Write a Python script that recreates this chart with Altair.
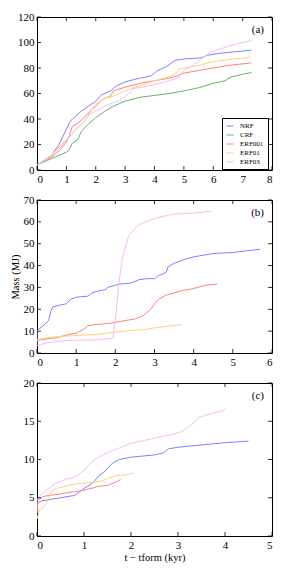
import altair as alt
import pandas as pd

runs = ["NRF", "CRF", "ERF001", "ERF01", "ERF03"]
colors = ["#8080ff", "#66b366", "#ff8080", "#ffd280", "#f6bdf6"]
panel_labels = ["(a)", "(b)", "(c)"]

# Panel (a)
a_nrf_t = [0, 0.2, 0.35, 0.5, 0.75, 1.0, 1.1, 1.2, 1.5, 1.75, 2.0, 2.2, 2.5, 2.7, 3.0, 3.3, 3.5, 3.9, 4.1, 4.4, 4.7, 5.0, 5.6, 5.8, 6.2, 7.3]
a_nrf_m = [4, 7, 9, 12, 20, 32, 37, 40, 46, 50, 54, 59, 62, 66, 69, 71, 72, 74, 78, 81, 86, 87, 88, 90, 91.5, 94]
a_crf_t = [0, 0.5, 0.8, 1.0, 1.1, 1.2, 1.4, 1.5, 1.7, 2.0, 2.3, 2.6, 3.0, 3.5, 4.0, 4.5, 5.0, 5.5, 6.0, 6.4, 6.6, 7.0, 7.3]
a_crf_m = [4, 9, 12, 14, 16, 21, 24, 30, 35, 41, 46, 50, 54, 57, 58.5, 60, 62, 64.5, 68, 70, 73, 75, 76.5]
a_e001_t = [0, 0.3, 0.5, 0.8, 1.0, 1.1, 1.2, 1.4, 1.6, 1.8, 2.0, 2.2, 2.5, 2.6, 3.0, 3.5, 4.0, 4.5, 4.8, 5.0, 5.5, 6.0, 6.5, 7.3]
a_e001_m = [4, 8, 10, 16, 22, 27, 34, 37, 41, 46, 50, 55, 58, 62, 65, 68, 70, 72, 74, 76, 78, 80, 82, 84]
a_e01_t = [0, 0.5, 1.0, 1.3, 1.6, 1.8, 2.0, 2.3, 2.6, 3.0, 3.5, 4.0, 4.5, 4.7, 4.85, 5.0, 5.5, 6.0, 6.5, 7.3]
a_e01_m = [4, 12, 24, 31, 38, 45, 52, 56, 58, 62, 66, 70, 73, 75, 79, 80, 82, 85, 86.5, 88.5]
a_e03_t = [0, 0.5, 1.0, 1.3, 1.6, 1.8, 2.0, 2.3, 2.6, 2.8, 3.0, 3.2, 3.3, 3.6, 4.0, 4.5, 4.8, 4.9, 5.0, 5.3, 5.6, 5.8, 6.0, 6.5, 7.0, 7.3]
a_e03_m = [4, 11, 23, 31, 38, 44, 46, 50, 53, 54, 58, 61, 64, 65, 67, 70, 72, 76, 78, 82, 87, 91, 93, 97, 100, 101.5]

# Panel (b)
b_nrf_t = [0, 0, 0.05, 0.2, 0.3, 0.35, 0.4, 0.6, 0.75, 0.85, 1.0, 1.3, 1.4, 1.6, 1.75, 1.8, 2.0, 2.1, 2.4, 2.6, 2.8, 3.0, 3.1, 3.2, 3.3, 3.35, 3.5, 3.8, 4.0, 4.5, 5.0, 5.7]
b_nrf_m = [4, 10, 11, 13, 15, 19, 21, 22, 22.5, 24.5, 25.5, 26, 27.5, 28.5, 29, 30, 31, 31.5, 32, 33.5, 34, 34, 35.5, 36, 37, 39.5, 41, 43, 44, 45.5, 46, 47.5]
b_e001_t = [0, 0.05, 0.5, 0.8, 1.0, 1.2, 1.3, 1.5, 1.8, 2.0, 2.3, 2.5, 2.7, 2.9, 3.0, 3.1, 3.3, 3.5, 3.7, 4.0, 4.3, 4.6]
b_e001_m = [5.5, 6, 7, 8.5, 9, 11, 12.5, 13, 13.5, 14, 15, 15.5, 17, 20, 22.5, 24.5, 26.5, 27.5, 28.5, 29.5, 31, 31.5]
b_e01_t = [0, 0.2, 0.5, 1.0, 1.5, 2.0, 2.5, 2.8, 3.0, 3.3, 3.7]
b_e01_m = [6, 6.8, 7.5, 8, 8.5, 9.5, 10.5, 10.8, 11.5, 12.2, 13]
b_e03_t = [0, 0.3, 0.8, 1.5, 1.94, 2.0, 2.09, 2.18, 2.35, 2.6, 3.03, 3.46, 4.0, 4.45]
b_e03_m = [3.5, 4.8, 5.8, 6.0, 6.8, 15, 31.5, 43.7, 54, 58.7, 61.7, 63.5, 64, 64.8]

# Panel (c)
c_nrf_t = [0, 0.01, 0.1, 0.5, 0.8, 1.0, 1.2, 1.3, 1.45, 1.6, 1.75, 2.0, 2.5, 2.7, 2.8, 3.0, 3.5, 4.0, 4.5]
c_nrf_m = [3, 4.3, 4.6, 5.0, 5.3, 6.2, 7.0, 7.8, 8.5, 9.5, 10.0, 10.3, 10.6, 10.9, 11.4, 11.6, 11.9, 12.2, 12.4]
c_e001_t = [0, 0.02, 0.15, 0.5, 0.8, 1.0, 1.2, 1.3, 1.5, 1.7, 1.78]
c_e001_m = [3, 4.7, 5.2, 5.5, 5.8, 6.0, 6.3, 6.5, 6.6, 7.1, 7.4]
c_e01_t = [0, 0.05, 0.15, 0.2, 0.25, 0.3, 0.4, 0.6, 0.8, 1.0, 1.2, 1.4, 1.5, 1.7, 1.85, 1.95, 2.0, 2.05]
c_e01_m = [2.2, 3.4, 3.8, 4.3, 5.0, 5.8, 6.2, 6.5, 6.8, 6.9, 7.0, 7.2, 7.5, 7.9, 8.0, 8.0, 8.2, 8.2]
c_e03_t = [0, 0.05, 0.2, 0.4, 0.6, 0.8, 1.0, 1.1, 1.3, 1.5, 1.75, 2.0, 2.5, 2.9, 3.1, 3.3, 3.45, 3.6, 3.9, 4.02]
c_e03_m = [4.7, 5.2, 6.0, 6.9, 7.4, 7.7, 8.5, 9.3, 10.3, 10.9, 11.5, 12.1, 12.8, 13.3, 13.7, 14.6, 15.5, 15.8, 16.3, 16.6]


def frame(series):
    rows = []
    for name, ts, ms in series:
        for i, (t, m) in enumerate(zip(ts, ms)):
            rows.append({"run": name, "t": t, "m": m, "i": i})
    return pd.DataFrame(rows)


df_a = frame([("NRF", a_nrf_t, a_nrf_m), ("CRF", a_crf_t, a_crf_m), ("ERF001", a_e001_t, a_e001_m),
              ("ERF01", a_e01_t, a_e01_m), ("ERF03", a_e03_t, a_e03_m)])
df_b = frame([("NRF", b_nrf_t, b_nrf_m), ("ERF001", b_e001_t, b_e001_m),
              ("ERF01", b_e01_t, b_e01_m), ("ERF03", b_e03_t, b_e03_m)])
df_c = frame([("NRF", c_nrf_t, c_nrf_m), ("ERF001", c_e001_t, c_e001_m),
              ("ERF01", c_e01_t, c_e01_m), ("ERF03", c_e03_t, c_e03_m)])

W, H = 235, 153
FONT = "Liberation Serif"
TL = 4


def panel(df, xmax, ymax, ystep, label, ytitle=None, xtitle=None, legend=None):
    xs = alt.Scale(domain=[0, xmax], nice=False)
    ys = alt.Scale(domain=[0, ymax], nice=False)
    xv = list(range(0, xmax + 1))
    yv = list(range(0, ymax + 1, ystep))
    common = dict(labelFont=FONT, labelFontSize=11, labelColor="black", grid=False,
                  titleFont=FONT, titleFontSize=10.5, titleFontWeight="normal", titleColor="black")
    xax = alt.Axis(values=xv, ticks=False, domain=False, labelPadding=3, title=xtitle, titlePadding=2, **common)
    yax = alt.Axis(values=yv, ticks=False, domain=False, labelPadding=3, title=ytitle, titlePadding=3, **common)
    lines = alt.Chart(df).mark_line(strokeWidth=1, clip=True).encode(
        x=alt.X("t:Q", scale=xs, axis=xax), y=alt.Y("m:Q", scale=ys, axis=yax), order="i:Q",
        color=alt.Color("run:N", scale=alt.Scale(domain=runs, range=colors), legend=legend))
    xt = pd.DataFrame({"v": xv})
    yt = pd.DataFrame({"v": yv})
    rule = dict(color="black", strokeWidth=0.8)
    xb = alt.Chart(xt).mark_rule(**rule).encode(
        x=alt.X("v:Q", scale=xs, axis=xax), y=alt.value(H), y2=alt.value(H - TL))
    xtp = alt.Chart(xt).mark_rule(**rule).encode(
        x=alt.X("v:Q", scale=xs, axis=xax), y=alt.value(0), y2=alt.value(TL))
    yl = alt.Chart(yt).mark_rule(**rule).encode(
        y=alt.Y("v:Q", scale=ys, axis=yax), x=alt.value(0), x2=alt.value(TL))
    yr = alt.Chart(yt).mark_rule(**rule).encode(
        y=alt.Y("v:Q", scale=ys, axis=yax), x=alt.value(W), x2=alt.value(W - TL))
    txt = alt.Chart(pd.DataFrame({"label": [label]})).mark_text(
        font=FONT, fontSize=11, color="black", align="right").encode(
        x=alt.value(W - 8), y=alt.value(13), text="label:N")
    return alt.layer(lines, xb, xtp, yl, yr, txt).properties(width=W, height=H)


leg = alt.Legend(orient="none", legendX=185, legendY=101, title=None, symbolType="stroke",
                 symbolSize=49, symbolStrokeWidth=1, labelFont=FONT, labelFontSize=7, labelColor="black",
                 rowPadding=2, padding=4, strokeColor="black", fillColor="white", labelOffset=6)

pa = panel(df_a, 8, 120, 20, panel_labels[0], legend=leg)
pb = panel(df_b, 6, 70, 10, panel_labels[1], ytitle="Mass (MJ)")
pc = panel(df_c, 5, 20, 5, panel_labels[2], xtitle="t − tform (kyr)")

chart = alt.vconcat(pa, pb, pc, spacing=8).resolve_scale(color="independent").configure_view(
    stroke="black", strokeWidth=1).properties(padding={"left": 1, "top": 2, "right": 2, "bottom": 2})

chart.save("out.html", embed_options={"renderer": "svg", "actions": False})
